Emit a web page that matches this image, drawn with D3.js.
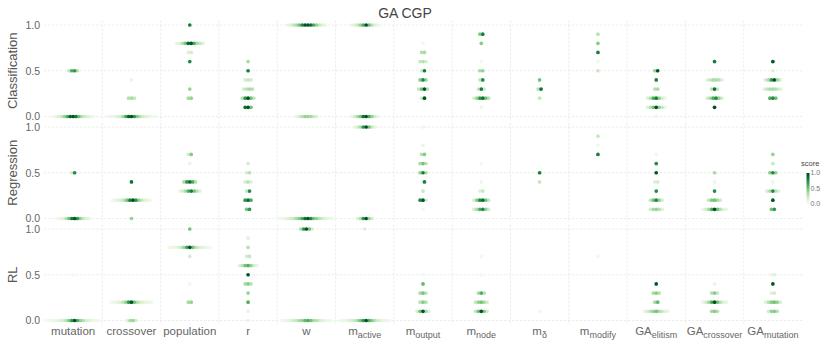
<!DOCTYPE html>
<html>
<head>
<meta charset="utf-8">
<script src="https://cdn.jsdelivr.net/npm/d3@7"></script>
<style>
  body { margin: 0; background: #fff; }
  text { font-family: "Liberation Sans", Arial, sans-serif; }
</style>
</head>
<body>
<svg id="chart" width="830" height="346"></svg>
<script>
// categories (main label + subscript)
var categories = ["mutation", "crossover", "population", "r", "w", "m_active", "m_output",
                  "m_node", "m_δ", "m_modify", "GA_elitism", "GA_crossover", "GA_mutation"];
var tasks = ["Classification", "Regression", "RL"];
var yTicks = [0, 0.5, 1];

// [category, value, scores of the runs that landed on that value]
var classification = [
  ["mutation", 0.5, [0.3, 0.7, 0.6, 0.25]],
  ["mutation", 0.0, [0.05, 0.05, 0.1, 0.1, 0.15, 0.2, 0.3, 0.4, 0.6, 0.8, 0.95, 0.9, 0.5, 0.25, 0.15]],
  ["crossover", 0.4, [0.1]],
  ["crossover", 0.2, [0.3, 0.35, 0.25]],
  ["crossover", 0.0, [0.05, 0.05, 0.1, 0.1, 0.15, 0.2, 0.3, 0.45, 0.7, 0.95, 0.9, 0.6, 0.35, 0.2, 0.15, 0.1, 0.05]],
  ["population", 1.0, [0.8]],
  ["population", 0.8, [0.1, 0.15, 0.25, 0.35, 0.5, 0.95, 0.9, 0.6, 0.3, 0.15]],
  ["population", 0.7, [0.15, 0.2]],
  ["population", 0.6, [0.75]],
  ["population", 0.3, [0.4]],
  ["population", 0.2, [0.35, 0.4]],
  ["r", 0.6, [0.35]],
  ["r", 0.5, [0.8]],
  ["r", 0.4, [0.2, 0.25, 0.2]],
  ["r", 0.3, [0.3, 0.35, 0.3, 0.2]],
  ["r", 0.2, [0.3, 0.7, 0.95, 0.5, 0.25]],
  ["r", 0.1, [0.5, 0.95, 0.85]],
  ["w", 1.0, [0.1, 0.15, 0.25, 0.35, 0.5, 0.75, 0.95, 0.95, 0.85, 0.6, 0.4, 0.25, 0.15, 0.1]],
  ["w", 0.0, [0.15, 0.25, 0.35, 0.4, 0.4, 0.3, 0.2, 0.1]],
  ["m_active", 1.0, [0.1, 0.15, 0.25, 0.4, 0.6, 0.95, 0.5, 0.3, 0.15, 0.1]],
  ["m_active", 0.0, [0.1, 0.2, 0.35, 0.5, 0.85, 0.95, 0.6, 0.4, 0.2, 0.1]],
  ["m_output", 0.8, [0.05]],
  ["m_output", 0.7, [0.35, 0.3]],
  ["m_output", 0.6, [0.25, 0.3, 0.2]],
  ["m_output", 0.5, [0.8, 0.2]],
  ["m_output", 0.4, [0.45, 0.75, 0.4]],
  ["m_output", 0.3, [0.3, 0.95, 0.5, 0.25]],
  ["m_output", 0.2, [0.95, 0.2]],
  ["m_node", 0.9, [0.8, 0.45]],
  ["m_node", 0.8, [0.45]],
  ["m_node", 0.6, [0.05]],
  ["m_node", 0.5, [0.4, 0.35]],
  ["m_node", 0.4, [0.75, 0.25]],
  ["m_node", 0.3, [0.2, 0.8, 0.25]],
  ["m_node", 0.2, [0.2, 0.4, 0.7, 0.85, 0.5, 0.3]],
  ["m_node", 0.1, [0.08]],
  ["m_δ", 0.4, [0.5]],
  ["m_δ", 0.3, [0.85, 0.3]],
  ["m_δ", 0.2, [0.25]],
  ["m_modify", 0.9, [0.3]],
  ["m_modify", 0.8, [0.45]],
  ["m_modify", 0.7, [0.8]],
  ["m_modify", 0.6, [0.05]],
  ["m_modify", 0.5, [0.25]],
  ["GA_elitism", 0.5, [0.95, 0.4]],
  ["GA_elitism", 0.4, [0.8]],
  ["GA_elitism", 0.3, [0.3, 0.35]],
  ["GA_elitism", 0.2, [0.1, 0.2, 0.4, 0.8, 0.6, 0.3, 0.15]],
  ["GA_elitism", 0.1, [0.1, 0.25, 0.4, 0.95, 0.5, 0.3, 0.15]],
  ["GA_elitism", 0.0, [0.08]],
  ["GA_crossover", 0.6, [0.8]],
  ["GA_crossover", 0.4, [0.15, 0.25, 0.35, 0.35, 0.3, 0.15]],
  ["GA_crossover", 0.3, [0.25, 0.85, 0.3]],
  ["GA_crossover", 0.2, [0.2, 0.35, 0.6, 0.75, 0.4, 0.2]],
  ["GA_crossover", 0.1, [0.95]],
  ["GA_mutation", 0.6, [0.95]],
  ["GA_mutation", 0.5, [0.15]],
  ["GA_mutation", 0.4, [0.2, 0.4, 0.95, 0.7, 0.35, 0.2]],
  ["GA_mutation", 0.3, [0.15, 0.25, 0.35, 0.35, 0.3, 0.2, 0.1]],
  ["GA_mutation", 0.2, [0.5, 0.75, 0.6]]
];

var regression = [
  ["mutation", 0.5, [0.75, 0.2]],
  ["mutation", 0.0, [0.05, 0.1, 0.15, 0.25, 0.4, 0.7, 0.95, 0.8, 0.5, 0.3, 0.15, 0.1]],
  ["crossover", 0.4, [0.85]],
  ["crossover", 0.2, [0.05, 0.1, 0.15, 0.2, 0.3, 0.5, 0.8, 0.95, 0.7, 0.4, 0.25, 0.15, 0.1, 0.05]],
  ["crossover", 0.0, [0.4]],
  ["population", 0.7, [0.45, 0.2]],
  ["population", 0.6, [0.1]],
  ["population", 0.4, [0.3, 0.6, 0.85, 0.7, 0.35]],
  ["population", 0.3, [0.1, 0.2, 0.35, 0.5, 0.8, 0.6, 0.3, 0.15]],
  ["r", 0.6, [0.2]],
  ["r", 0.5, [0.3, 0.2]],
  ["r", 0.4, [0.15, 0.3, 0.2]],
  ["r", 0.3, [0.75, 0.25]],
  ["r", 0.2, [0.6, 0.85, 0.7]],
  ["r", 0.1, [0.7, 0.5]],
  ["w", 0.0, [0.05, 0.08, 0.1, 0.15, 0.2, 0.25, 0.35, 0.45, 0.6, 0.85, 0.95, 0.75, 0.5, 0.4, 0.3, 0.2, 0.15, 0.1, 0.08, 0.05]],
  ["m_active", 1.0, [0.1, 0.2, 0.35, 0.7, 0.95, 0.5, 0.25, 0.1]],
  ["m_active", 0.0, [0.2, 0.4, 0.95, 0.7, 0.3, 0.15]],
  ["m_output", 1.0, [0.08]],
  ["m_output", 0.8, [0.1]],
  ["m_output", 0.7, [0.45, 0.3]],
  ["m_output", 0.6, [0.3, 0.5, 0.35]],
  ["m_output", 0.5, [0.35, 0.8, 0.4]],
  ["m_output", 0.4, [0.8, 0.05]],
  ["m_output", 0.3, [0.25]],
  ["m_output", 0.2, [0.95, 0.75, 0.2]],
  ["m_output", 0.1, [0.05]],
  ["m_node", 0.6, [0.05]],
  ["m_node", 0.4, [0.08]],
  ["m_node", 0.3, [0.25, 0.15]],
  ["m_node", 0.2, [0.2, 0.45, 0.75, 0.85, 0.5, 0.25]],
  ["m_node", 0.1, [0.2, 0.35, 0.75, 0.6, 0.4, 0.2]],
  ["m_δ", 0.5, [0.8]],
  ["m_δ", 0.4, [0.25]],
  ["m_modify", 0.9, [0.25]],
  ["m_modify", 0.8, [0.05]],
  ["m_modify", 0.7, [0.8]],
  ["m_modify", 0.5, [0.05]],
  ["GA_elitism", 0.7, [0.05]],
  ["GA_elitism", 0.6, [0.75]],
  ["GA_elitism", 0.5, [0.95]],
  ["GA_elitism", 0.4, [0.2, 0.15]],
  ["GA_elitism", 0.3, [0.75]],
  ["GA_elitism", 0.2, [0.2, 0.4, 0.75, 0.5, 0.25]],
  ["GA_elitism", 0.1, [0.15, 0.3, 0.4, 0.35, 0.2]],
  ["GA_crossover", 0.5, [0.35]],
  ["GA_crossover", 0.4, [0.08]],
  ["GA_crossover", 0.3, [0.75]],
  ["GA_crossover", 0.2, [0.2, 0.35, 0.5, 0.45, 0.25]],
  ["GA_crossover", 0.1, [0.1, 0.15, 0.3, 0.5, 0.95, 0.6, 0.35, 0.2, 0.1]],
  ["GA_mutation", 0.7, [0.4]],
  ["GA_mutation", 0.6, [0.25]],
  ["GA_mutation", 0.5, [0.4, 0.75, 0.45]],
  ["GA_mutation", 0.4, [0.08]],
  ["GA_mutation", 0.3, [0.2, 0.35, 0.75, 0.3, 0.15]],
  ["GA_mutation", 0.2, [0.95]],
  ["GA_mutation", 0.1, [0.7, 0.5]]
];

var rl = [
  ["mutation", 0.5, [0.05]],
  ["mutation", 0.0, [0.03, 0.05, 0.08, 0.1, 0.12, 0.15, 0.2, 0.3, 0.4, 0.6, 0.95, 0.7, 0.45, 0.3, 0.2, 0.15, 0.1, 0.08, 0.05, 0.03]],
  ["crossover", 0.2, [0.05, 0.08, 0.1, 0.15, 0.2, 0.3, 0.5, 0.95, 0.7, 0.4, 0.25, 0.15, 0.1, 0.08, 0.05]],
  ["crossover", 0.0, [0.2, 0.4, 0.35, 0.15]],
  ["population", 1.0, [0.5]],
  ["population", 0.8, [0.05, 0.08, 0.1, 0.15, 0.2, 0.3, 0.5, 0.95, 0.65, 0.4, 0.25, 0.15, 0.1, 0.08, 0.05]],
  ["population", 0.7, [0.2]],
  ["population", 0.4, [0.05]],
  ["population", 0.2, [0.4, 0.35]],
  ["r", 0.9, [0.15]],
  ["r", 0.8, [0.3]],
  ["r", 0.7, [0.2, 0.25]],
  ["r", 0.6, [0.15, 0.3, 0.5, 0.6, 0.4, 0.2, 0.1]],
  ["r", 0.5, [0.95]],
  ["r", 0.4, [0.35, 0.45, 0.3]],
  ["r", 0.3, [0.4]],
  ["r", 0.2, [0.6]],
  ["r", 0.1, [0.1]],
  ["r", 0.0, [0.08]],
  ["w", 1.0, [0.3, 0.7, 0.95, 0.5, 0.2]],
  ["w", 0.0, [0.05, 0.08, 0.1, 0.15, 0.2, 0.3, 0.35, 0.5, 0.6, 0.55, 0.4, 0.35, 0.25, 0.2, 0.15, 0.1, 0.08, 0.05]],
  ["m_active", 1.0, [0.15]],
  ["m_active", 0.0, [0.05, 0.08, 0.1, 0.15, 0.2, 0.3, 0.45, 0.6, 0.95, 0.7, 0.5, 0.35, 0.25, 0.2, 0.15, 0.1, 0.08, 0.05]],
  ["m_output", 0.5, [0.05]],
  ["m_output", 0.4, [0.55]],
  ["m_output", 0.3, [0.3, 0.5, 0.35]],
  ["m_output", 0.2, [0.3, 0.45, 0.3]],
  ["m_output", 0.1, [0.15, 0.35, 0.95, 0.5, 0.2]],
  ["m_node", 0.7, [0.05]],
  ["m_node", 0.5, [0.05]],
  ["m_node", 0.3, [0.35, 0.6, 0.3]],
  ["m_node", 0.2, [0.2, 0.35, 0.5, 0.4, 0.25]],
  ["m_node", 0.1, [0.2, 0.45, 0.95, 0.5, 0.25]],
  ["m_δ", 0.1, [0.05]],
  ["m_modify", 0.7, [0.05]],
  ["GA_elitism", 0.4, [0.95]],
  ["GA_elitism", 0.3, [0.3, 0.45, 0.35]],
  ["GA_elitism", 0.2, [0.35, 0.55]],
  ["GA_elitism", 0.1, [0.1, 0.15, 0.25, 0.35, 0.5, 0.4, 0.3, 0.2, 0.1]],
  ["GA_crossover", 0.4, [0.1]],
  ["GA_crossover", 0.3, [0.3, 0.45, 0.25]],
  ["GA_crossover", 0.2, [0.1, 0.15, 0.3, 0.5, 0.95, 0.6, 0.35, 0.2, 0.1]],
  ["GA_crossover", 0.1, [0.3, 0.45, 0.35]],
  ["GA_mutation", 0.5, [0.1, 0.15]],
  ["GA_mutation", 0.4, [0.95]],
  ["GA_mutation", 0.3, [0.15, 0.2]],
  ["GA_mutation", 0.2, [0.15, 0.3, 0.5, 0.45, 0.4, 0.2]],
  ["GA_mutation", 0.1, [0.3, 0.45, 0.4, 0.2]]
];

var panels = [classification, regression, rl];

var svg = d3.select("#chart"),
    left = 44, right = 802,
    panelTop = 20.5, panelH = 100.5, panelGap = 1.5, pad = 4.5,
    dotR = 1.85, dotStep = 2.9;

var x = d3.scaleBand().domain(categories).range([left, right]);
var color = d3.scaleSequential(d3.interpolateGreens).domain([0, 1]);

// title
svg.append("text")
    .attr("x", 405).attr("y", 18)
    .attr("text-anchor", "middle")
    .attr("font-size", 14).attr("fill", "#444")
    .text("GA CGP");

panels.forEach(function (rows, i) {
  var top = panelTop + i * (panelH + panelGap);
  var y = d3.scaleLinear().domain([0, 1]).range([top + panelH - pad, top + pad]);
  var g = svg.append("g");

  // grid
  g.selectAll(".hgrid").data(yTicks).enter().append("line")
      .attr("x1", left).attr("x2", right)
      .attr("y1", function (d) { return y(d); }).attr("y2", function (d) { return y(d); })
      .attr("stroke", "#e8e8ec").attr("stroke-width", 0.8).attr("stroke-dasharray", "2.5,1.5");
  g.selectAll(".vgrid").data(categories.slice(1)).enter().append("line")
      .attr("x1", function (d) { return x(d); }).attr("x2", function (d) { return x(d); })
      .attr("y1", top).attr("y2", top + panelH)
      .attr("stroke", "#e8e8ec").attr("stroke-width", 0.8).attr("stroke-dasharray", "2.5,1.5");

  // y axis ticks
  g.selectAll(".ytick").data(yTicks).enter().append("text")
      .attr("x", 40).attr("y", function (d) { return y(d); })
      .attr("dy", "0.36em").attr("text-anchor", "end")
      .attr("font-size", 10.5).attr("fill", "#666")
      .text(function (d) { return d3.format(".1f")(d); });

  // row title
  svg.append("text")
      .attr("transform", "translate(17," + (top + panelH / 2) + ") rotate(-90)")
      .attr("text-anchor", "middle")
      .attr("font-size", 13).attr("fill", "#555")
      .text(tasks[i]);

  // dots: each group spread sideways, best scores in the middle
  var pts = [];
  rows.forEach(function (r) {
    var s = r[2].slice().sort(d3.descending), n = s.length;
    s.forEach(function (v, k) {
      var side = k % 2 === 0 ? 1 : -1, step = Math.ceil(k / 2);
      var off = (n % 2 === 1) ? side * step : (k % 2 === 0 ? 0.5 + k / 2 : -(0.5 + (k - 1) / 2));
      pts.push({ cat: r[0], val: r[1], score: v, off: off });
    });
  });
  pts.sort(function (a, b) { return a.score - b.score; });
  g.selectAll("circle").data(pts).enter().append("circle")
      .attr("cx", function (d) { return x(d.cat) + x.bandwidth() / 2 + d.off * dotStep; })
      .attr("cy", function (d) { return y(d.val); })
      .attr("r", dotR)
      .attr("fill", function (d) { return color(d.score); });
});

// x labels with subscripts
var xl = svg.append("g").selectAll("text").data(categories).enter().append("text")
    .attr("x", function (d) { return x(d) + x.bandwidth() / 2; })
    .attr("y", 335)
    .attr("text-anchor", "middle")
    .attr("font-size", 11.5).attr("fill", "#666");
xl.each(function (d) {
  var parts = d.split("_"), t = d3.select(this);
  t.append("tspan").text(parts[0]);
  if (parts[1]) t.append("tspan").attr("font-size", 9).attr("dy", 2.5).text(parts[1]);
});

// colour bar
var defs = svg.append("defs");
var grad = defs.append("linearGradient").attr("id", "scoreGrad")
    .attr("x1", 0).attr("y1", 1).attr("x2", 0).attr("y2", 0);
d3.range(0, 1.01, 0.1).forEach(function (t) {
  grad.append("stop").attr("offset", t).attr("stop-color", color(t));
});
var cb = d3.scaleLinear().domain([0, 1]).range([204, 173]);
svg.append("text").attr("x", 801).attr("y", 166)
    .attr("font-size", 7.5).attr("fill", "#444").text("score");
svg.append("rect").attr("x", 806.5).attr("y", cb(1)).attr("width", 3)
    .attr("height", cb(0) - cb(1)).attr("fill", "url(#scoreGrad)");
svg.selectAll(".cbt").data([0, 0.5, 1]).enter().append("text")
    .attr("x", 810.5).attr("y", function (d) { return cb(d); })
    .attr("dy", "0.35em").attr("font-size", 7).attr("fill", "#777")
    .text(function (d) { return d3.format(".1f")(d); });
</script>
</body>
</html>
